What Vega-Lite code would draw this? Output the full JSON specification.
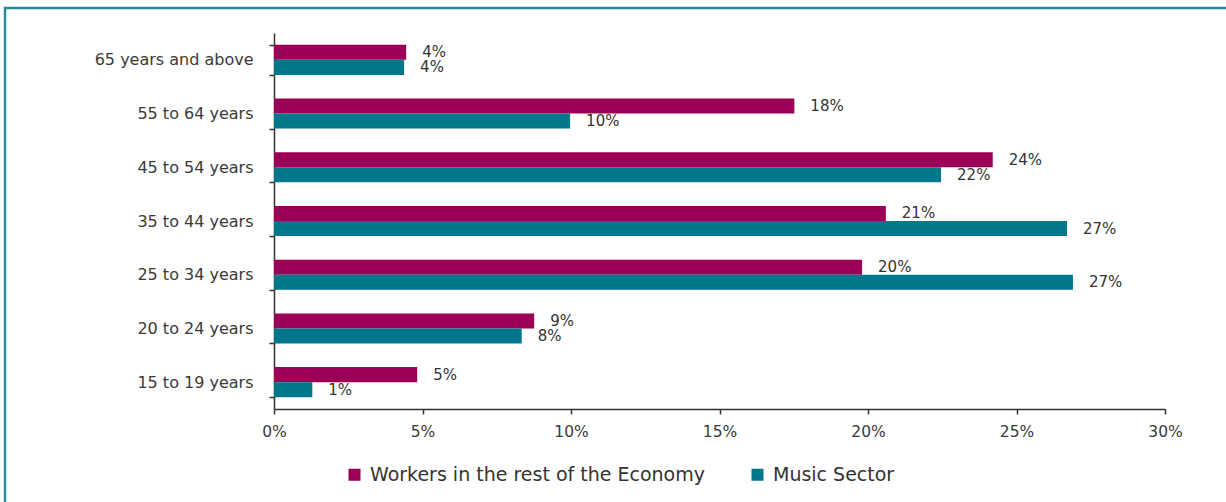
{
  "$schema": "https://vega.github.io/schema/vega-lite/v6.json",
  "usermeta": {"embedOptions": {"actions": false}},
  "width": 1240,
  "height": 510,
  "autosize": {"type": "none"},
  "padding": {"left": 5, "top": 8, "right": -19, "bottom": -16},
  "background": "white",
  "config": {
    "view": {"stroke": "#2A8C9A", "strokeWidth": 2.5},
    "font": "DejaVu Sans"
  },
  "data": {
    "values": [
      {"age": "65 years and above", "group": "Workers in the rest of the Economy", "share": 0.0445},
      {"age": "65 years and above", "group": "Music Sector", "share": 0.0438},
      {"age": "55 to 64 years", "group": "Workers in the rest of the Economy", "share": 0.1752},
      {"age": "55 to 64 years", "group": "Music Sector", "share": 0.0997},
      {"age": "45 to 54 years", "group": "Workers in the rest of the Economy", "share": 0.242},
      {"age": "45 to 54 years", "group": "Music Sector", "share": 0.2246},
      {"age": "35 to 44 years", "group": "Workers in the rest of the Economy", "share": 0.206},
      {"age": "35 to 44 years", "group": "Music Sector", "share": 0.267},
      {"age": "25 to 34 years", "group": "Workers in the rest of the Economy", "share": 0.198},
      {"age": "25 to 34 years", "group": "Music Sector", "share": 0.269},
      {"age": "20 to 24 years", "group": "Workers in the rest of the Economy", "share": 0.0876},
      {"age": "20 to 24 years", "group": "Music Sector", "share": 0.0834},
      {"age": "15 to 19 years", "group": "Workers in the rest of the Economy", "share": 0.0482},
      {"age": "15 to 19 years", "group": "Music Sector", "share": 0.0129}
    ]
  },
  "encoding": {
    "y": {
      "field": "age",
      "type": "nominal",
      "sort": ["65 years and above", "55 to 64 years", "45 to 54 years", "35 to 44 years", "25 to 34 years", "20 to 24 years", "15 to 19 years"],
      "scale": {"range": [25, 401], "paddingInner": 0.44, "paddingOuter": 0.22},
      "axis": {
        "title": null,
        "orient": "left",
        "offset": -269,
        "tickBand": "extent",
        "tickSize": 5,
        "tickColor": "#333333",
        "tickWidth": 1.5,
        "domainColor": "#333333",
        "domainWidth": 1.5,
        "labelPadding": 16,
        "labelFontSize": 16,
        "labelColor": "#3a3a3a",
        "labelFont": "DejaVu Sans",
        "grid": false
      }
    },
    "yOffset": {
      "field": "group",
      "type": "nominal",
      "sort": ["Workers in the rest of the Economy", "Music Sector"]
    },
    "x": {
      "field": "share",
      "type": "quantitative",
      "scale": {"domain": [0, 0.3], "range": [269, 1160], "nice": false},
      "axis": {
        "title": null,
        "orient": "bottom",
        "offset": -109,
        "values": [0, 0.05, 0.1, 0.15, 0.2, 0.25, 0.3],
        "format": ".0%",
        "grid": false,
        "labelFlush": false,
        "tickSize": 5,
        "tickColor": "#333333",
        "tickWidth": 1.5,
        "domainColor": "#333333",
        "domainWidth": 1.5,
        "labelPadding": 10,
        "labelFontSize": 15.5,
        "labelColor": "#3a3a3a",
        "labelFont": "DejaVu Sans"
      }
    }
  },
  "layer": [
    {
      "mark": {"type": "bar"},
      "encoding": {
        "color": {
          "field": "group",
          "type": "nominal",
          "scale": {
            "domain": ["Workers in the rest of the Economy", "Music Sector"],
            "range": ["#9B0056", "#00778A"]
          },
          "legend": {
            "title": null,
            "orient": "none",
            "direction": "horizontal",
            "columns": 2,
            "legendX": 340,
            "legendY": 457,
            "padding": 0,
            "symbolType": "square",
            "symbolSize": 144,
            "symbolStrokeWidth": 0,
            "labelFontSize": 19,
            "labelColor": "#333333",
            "labelFont": "DejaVu Sans",
            "labelOffset": 6,
            "columnPadding": 43,
            "labelLimit": 500
          }
        }
      }
    },
    {
      "mark": {"type": "text", "align": "left", "baseline": "middle", "dx": 16, "fontSize": 15, "color": "#333333", "font": "DejaVu Sans"},
      "encoding": {
        "text": {"field": "share", "type": "quantitative", "format": ".0%"}
      }
    }
  ]
}
